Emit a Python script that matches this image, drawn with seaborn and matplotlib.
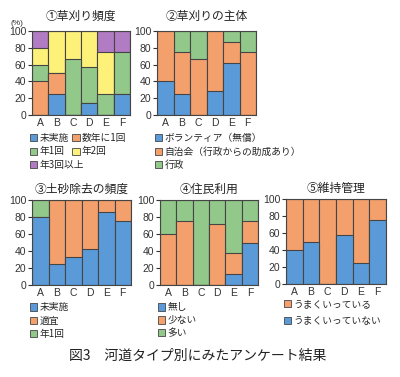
import numpy as np
import matplotlib
matplotlib.use('Agg')
import matplotlib.pyplot as plt
import seaborn as sns
from matplotlib.patches import Patch

categories = ['A', 'B', 'C', 'D', 'E', 'F']

# ① 草刈り頻度 (bottom -> top)
mow_freq_labels = ['未実施', '数年に1回', '年1回', '年2回', '年3回以上']
mow_none = [0, 25, 0, 14.3, 0, 25]
mow_few_years = [40, 25, 0, 0, 0, 0]
mow_once = [20, 0, 66.7, 42.9, 25, 50]
mow_twice = [20, 50, 33.3, 42.9, 50, 0]
mow_three = [20, 0, 0, 0, 25, 25]

# ② 草刈りの主体
actor_labels = ['ボランティア（無償）', '自治会（行政からの助成あり）', '行政']
actor_volunteer = [40, 25, 0, 28.6, 62.5, 0]
actor_community = [60, 50, 66.7, 71.4, 25, 75]
actor_gov = [0, 25, 33.3, 0, 12.5, 25]

# ③ 土砂除去の頻度
sed_labels = ['未実施', '適宜', '年1回']
sed_none = [80, 25, 33.3, 42.9, 85.7, 75]
sed_asneeded = [0, 75, 66.7, 57.1, 14.3, 25]
sed_yearly = [20, 0, 0, 0, 0, 0]

# ④ 住民利用
use_labels = ['無し', '少ない', '多い']
use_none = [0, 0, 0, 0, 12.5, 50]
use_little = [60, 75, 0, 71.4, 25, 25]
use_much = [40, 25, 100, 28.6, 62.5, 25]

# ⑤ 維持管理 (legend order: good first, but good is stacked on top)
mgmt_labels = ['うまくいっている', 'うまくいっていない']
mgmt_good = [60, 50, 100, 42.9, 75, 25]
mgmt_bad = [40, 50, 0, 57.1, 25, 75]

BLUE = '#5b9ad8'
ORANGE = '#f4a06c'
GREEN = '#92c98a'
YELLOW = '#fdf17a'
PURPLE = '#b27cc4'
EDGE = '#454545'
TICK_FONT = ['Liberation Sans', 'DejaVu Sans']

sns.set_style('white')
plt.rcParams['font.family'] = ['Noto Sans CJK JP', 'DejaVu Sans']

W, H = 400, 377
fig = plt.figure(figsize=(W / 100, H / 100), dpi=100)


def add_ax(x0, y0, x1, y1):
    # pixel box (top-left origin) -> figure fraction
    return fig.add_axes([x0 / W, 1 - y1 / H, (x1 - x0) / W, (y1 - y0) / H])


def draw_stack(ax, series, colors, title, pad):
    cum = np.cumsum(np.array(series, dtype=float), axis=0)
    # draw tallest cumulative first so lower layers sit on top
    for i in reversed(range(len(series))):
        sns.barplot(x=categories, y=cum[i], color=colors[i], width=1,
                    saturation=1, edgecolor=EDGE, linewidth=0.8,
                    errorbar=None, ax=ax)
    ax.set_xlim(-0.5, 5.5)
    ax.set_ylim(0, 100)
    ax.set_yticks(range(0, 101, 20))
    ax.set_xlabel('')
    ax.set_ylabel('')
    ax.tick_params(axis='x', length=0, pad=2, colors='#333333')
    ax.tick_params(axis='y', length=3, width=0.8, pad=1, colors='#333333', left=True)
    for lab in ax.get_xticklabels() + ax.get_yticklabels():
        lab.set_fontfamily(TICK_FONT)
        lab.set_fontsize(7.5)
    for s in ax.spines.values():
        s.set_color(EDGE)
        s.set_linewidth(0.8)
    ax.set_title(title, fontsize=8.5, pad=pad, color='#222222')


def add_legend(ax, labels, colors, ncol=1, y=-0.205, spacing=0.35, colspace=0.5):
    handles = [Patch(facecolor=c, edgecolor=EDGE, linewidth=0.6) for c in colors]
    leg = ax.legend(handles, labels, loc='upper left', bbox_to_anchor=(-0.02, y),
                    frameon=False, fontsize=7, handlelength=0.75, handleheight=0.75,
                    handletextpad=0.2, labelspacing=spacing, borderpad=0,
                    borderaxespad=0, ncol=ncol, columnspacing=colspace)
    return leg


# ①
ax1 = add_ax(32, 31, 130, 115)
c1 = [BLUE, ORANGE, GREEN, YELLOW, PURPLE]
draw_stack(ax1, [mow_none, mow_few_years, mow_once, mow_twice, mow_three], c1,
           '①草刈り頻度', pad=8)
# first two rows flow left to right, third row on its own
order = [0, 2, 1, 3]
leg1 = add_legend(ax1, [mow_freq_labels[i] for i in order], [c1[i] for i in order],
                  ncol=2, y=-0.215, colspace=0.4)
ax1.add_artist(leg1)
add_legend(ax1, [mow_freq_labels[4]], [c1[4]], y=-0.215 - 2 * 13.5 / 84)
ax1.text(-0.15, 1.07, '(%)', transform=ax1.transAxes, fontsize=6, ha='center',
         color='#333333', fontfamily=TICK_FONT)

# ②
ax2 = add_ax(157, 31, 256, 115)
c2 = [BLUE, ORANGE, GREEN]
draw_stack(ax2, [actor_volunteer, actor_community, actor_gov], c2, '②草刈りの主体', pad=8)
add_legend(ax2, actor_labels, c2, y=-0.215)

# ③
ax3 = add_ax(32, 200, 131, 285)
c3 = [BLUE, ORANGE, GREEN]
draw_stack(ax3, [sed_none, sed_asneeded, sed_yearly], c3, '③土砂除去の頻度', pad=5)
add_legend(ax3, sed_labels, c3)

# ④
ax4 = add_ax(160, 200, 258, 285)
c4 = [BLUE, ORANGE, GREEN]
draw_stack(ax4, [use_none, use_little, use_much], c4, '④住民利用', pad=5)
add_legend(ax4, use_labels, c4, spacing=0.3)

# ⑤
ax5 = add_ax(286, 199, 386, 284)
draw_stack(ax5, [mgmt_bad, mgmt_good], [BLUE, ORANGE], '⑤維持管理', pad=5)
add_legend(ax5, mgmt_labels, [ORANGE, BLUE], y=-0.18, spacing=0.65)

fig.text(198 / W, 1 - 356 / H, '図3　河道タイプ別にみたアンケート結果',
         ha='center', va='center', fontsize=10, color='#222222')

fig.savefig('out.png', dpi=100, facecolor='white')
